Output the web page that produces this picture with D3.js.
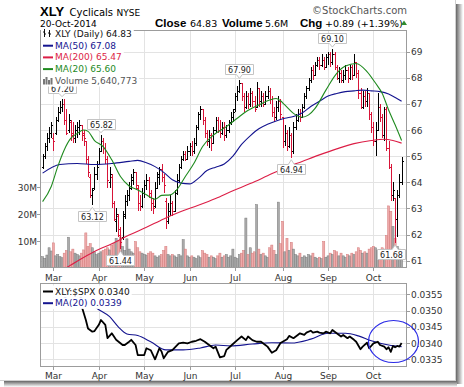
<!DOCTYPE html>
<html>
<head>
<meta charset="utf-8">
<script src="https://cdn.jsdelivr.net/npm/d3@7/dist/d3.min.js"></script>
<style>
  body { margin: 0; background: #fff; }
  svg { display: block; }
</style>
</head>
<body>
<div id="chart"></div>
<script>
// ---- data ----
const months = ['Mar', 'Apr', 'May', 'Jun', 'Jul', 'Aug', 'Sep', 'Oct'];
const monthStart = [5, 26, 47, 68, 89, 111, 132, 153]; // bar index of first trading day

// daily bars, 24-Feb-2014 .. 20-Oct-2014
const open = [64.6,65.0,65.4,65.7,65.9,65.7,65.9,66.4,66.7,66.9,67.0,66.4,66.0,66.3,65.9,65.7,66.0,66.1,66.2,65.9,
  65.6,64.9,64.2,63.5,63.8,64.3,64.7,65.2,65.6,65.3,64.9,64.0,64.2,63.2,62.5,62.7,62.2,61.9,62.8,63.3,
  63.5,63.8,64.1,64.4,63.8,63.2,63.1,63.6,63.9,64.1,63.6,63.2,63.1,63.8,64.2,64.5,64.2,63.3,62.5,62.9,
  63.2,62.9,63.6,64.1,64.6,64.9,65.1,64.9,65.2,65.4,65.2,65.5,66.1,66.6,66.8,66.4,65.9,65.6,65.8,65.5,
  66.0,66.4,66.0,65.9,66.1,65.8,66.0,66.3,66.5,66.8,67.3,67.5,67.8,67.3,66.9,67.3,67.0,67.4,67.1,66.9,
  67.6,67.1,67.3,67.0,67.3,67.5,67.2,66.7,66.5,66.9,67.1,66.5,65.6,65.9,65.4,65.8,65.2,66.1,66.4,66.6,
  66.5,66.9,67.3,67.6,67.9,68.3,68.1,68.5,68.7,68.5,68.7,68.4,68.8,68.9,68.6,68.9,68.4,68.0,68.2,67.9,
  68.1,68.3,68.0,68.4,68.1,68.6,68.2,67.4,66.9,67.3,67.1,67.4,66.6,66.1,65.6,66.0,66.9,66.5,65.8,66.8,
  65.3,64.6,63.5,63.4,62.6,63.5,64.0];
const high = [65.1,65.5,65.9,66.1,66.3,65.9,66.5,66.9,67.1,67.2,67.2,66.8,66.6,66.4,66.3,66.2,66.3,66.4,66.2,66.0,
  65.6,65.0,64.3,63.8,64.6,64.8,65.3,65.82,65.7,65.5,65.0,64.6,64.3,63.3,63.0,62.8,62.3,62.9,63.5,63.7,
  64.0,64.3,64.5,64.4,63.9,63.5,63.8,64.1,64.3,64.2,63.7,63.4,64.0,64.4,64.6,64.7,64.3,63.4,63.2,63.5,
  63.3,63.7,64.3,64.7,65.0,65.2,65.2,65.4,65.5,65.6,65.7,66.2,66.7,66.92,66.8,66.5,66.0,66.0,65.9,66.1,
  66.5,66.5,66.4,66.3,66.3,66.2,66.4,66.7,66.8,67.4,67.7,67.9,67.8,67.4,67.5,67.4,67.6,67.5,67.3,67.85,
  67.6,67.5,67.4,67.5,67.7,67.6,67.3,66.9,67.1,67.3,67.2,66.5,66.2,66.0,66.1,65.9,66.3,66.6,66.8,66.8,
  67.0,67.4,67.7,68.0,68.4,68.5,68.6,68.8,68.8,68.9,68.8,68.9,69.0,69.0,69.1,69.0,68.5,68.4,68.3,68.3,
  68.5,68.4,68.5,68.5,68.9,68.6,68.3,67.6,67.5,67.5,67.6,67.4,66.7,66.3,66.3,67.4,67.0,66.6,66.9,66.9,
  65.6,64.7,64.0,63.4,63.7,64.3,64.95];
const low = [64.5,64.9,65.2,65.5,65.7,65.2,65.8,66.3,66.6,66.7,66.2,65.8,65.9,65.6,65.5,65.5,65.7,65.8,65.6,65.4,
  64.7,64.2,63.4,63.12,63.7,64.1,64.7,65.2,65.1,64.7,63.8,63.8,63.0,62.5,62.1,61.9,61.44,61.8,62.6,63.1,
  63.3,63.7,63.9,63.7,62.9,62.9,63.0,63.4,63.7,63.4,62.9,62.8,63.0,63.8,63.9,64.0,63.6,62.2,62.4,62.7,
  62.7,62.9,63.5,64.0,64.5,64.8,64.8,64.9,65.0,65.0,65.1,65.4,66.0,66.4,66.2,65.7,65.4,65.3,65.2,65.5,
  65.9,65.9,65.7,65.8,65.6,65.7,65.9,66.2,66.3,66.7,67.1,67.4,67.1,66.7,66.8,66.8,66.9,66.9,66.7,66.9,
  66.9,66.9,66.9,67.0,67.2,67.0,66.5,66.3,66.4,66.7,66.4,65.3,65.4,65.2,65.3,64.94,65.1,66.0,66.3,66.3,
  66.5,66.8,67.2,67.5,67.8,67.9,68.1,68.4,68.3,68.4,68.3,68.4,68.5,68.4,68.5,68.3,67.9,67.8,67.8,67.8,
  67.9,67.8,67.9,67.9,68.1,68.0,67.2,66.8,66.8,66.9,66.9,66.4,65.9,65.4,65.0,66.0,66.3,65.7,65.6,65.2,
  64.5,63.3,63.3,61.68,61.9,63.4,63.9];
const close = [65.0,65.4,65.7,65.9,66.2,65.6,66.4,66.7,66.9,67.0,66.4,65.9,66.4,65.8,65.7,66.0,66.1,66.2,65.8,65.7,
  64.9,64.4,63.5,63.7,64.3,64.6,65.2,65.6,65.3,64.9,64.1,64.3,63.2,62.6,62.8,62.0,61.7,62.7,63.3,63.5,
  63.8,64.2,64.4,63.9,63.2,63.1,63.6,63.9,64.1,63.6,63.2,63.0,63.8,64.3,64.5,64.2,63.9,62.5,62.9,63.2,
  62.9,63.6,64.1,64.6,64.9,65.1,64.9,65.2,65.4,65.2,65.5,66.1,66.6,66.8,66.4,65.9,65.6,65.8,65.5,66.0,
  66.4,66.0,65.9,66.1,65.8,66.0,66.3,66.5,66.7,67.3,67.5,67.8,67.3,66.9,67.3,67.0,67.4,67.1,66.8,67.6,
  67.1,67.3,67.0,67.3,67.5,67.2,66.7,66.5,66.9,67.1,66.6,65.6,65.9,65.4,65.8,65.2,66.1,66.4,66.6,66.5,
  66.9,67.3,67.6,67.9,68.3,68.1,68.5,68.7,68.5,68.7,68.4,68.8,68.9,68.6,68.9,68.4,68.0,68.2,67.9,68.1,
  68.3,68.0,68.4,68.1,68.6,68.2,67.4,66.9,67.3,67.1,67.4,66.6,66.1,65.6,66.0,66.9,66.5,65.8,66.8,65.3,
  64.6,63.5,63.7,62.6,63.5,64.0,64.83];
// volume, millions
const volume = [4.2,3.6,4.8,7.5,6.3,9.3,4.5,5.0,4.2,3.8,5.5,6.5,11.4,6.0,7.0,5.5,5.0,4.5,5.5,6.7,
  13.0,8.0,9.0,7.5,6.0,5.0,5.5,6.0,6.5,7.0,7.5,6.7,8.5,9.0,11.0,10.0,11.5,8.0,6.5,10.8,
  7.0,6.0,5.5,9.8,7.5,6.0,5.5,5.0,4.8,5.5,6.0,5.5,4.5,4.0,4.5,5.0,6.5,8.0,5.0,4.5,
  5.0,4.5,4.0,5.0,4.5,10.5,7.0,4.5,4.0,4.5,4.0,3.5,4.5,3.8,6.4,5.5,5.0,4.0,4.5,4.0,
  3.5,4.5,5.5,4.0,4.5,5.0,4.0,4.5,7.0,4.0,3.5,5.0,5.5,6.5,18.5,5.0,7.5,5.5,6.0,23.5,
  7.0,5.0,5.5,4.5,4.0,7.5,8.5,6.5,5.0,24.4,9.0,17.3,6.0,11.0,6.5,9.5,7.0,5.0,4.5,5.5,
  4.0,4.5,4.0,5.0,4.5,5.5,4.0,3.5,4.0,3.5,9.8,4.0,4.5,5.5,5.0,6.5,6.0,4.5,5.5,4.5,
  4.0,5.0,4.5,5.5,5.0,6.0,7.5,6.5,5.5,6.0,5.5,7.0,7.5,8.0,7.5,6.5,6.0,7.5,7.0,12.0,
  23.0,21.0,15.4,11.0,8.0,7.0,5.64];

// moving averages as [bar index, value]
const ma20 = [[0,63.26],[4,63.84],[7,64.6],[10,65.24],[13,65.68],[16,65.87],[19,66.0],[21,65.95],[24,65.6],[28,65.37],
  [32,64.86],[36,64.22],[40,63.86],[44,63.71],[48,63.52],[52,63.35],[55,63.5],[59,63.52],[62,63.71],[66,64.22],
  [70,64.73],[74,65.37],[79,65.81],[85,66.13],[90,66.45],[94,66.7],[100,66.96],[105,67.15],[108,67.21],[110,67.12],
  [112,66.96],[116,66.64],[120,66.49],[123,66.58],[126,66.83],[131,67.53],[136,68.17],[140,68.45],[145,68.55],
  [150,68.24],[154,67.79],[157,67.41],[160,66.77],[163,66.2],[166,65.6]];
const ma50 = [[0,64.35],[8,64.68],[16,64.72],[24,64.68],[32,64.72],[40,64.8],[44,64.84],[48,64.75],[52,64.6],[56,64.38],
  [60,64.1],[64,63.97],[68,63.94],[72,64.15],[76,64.45],[80,64.58],[84,64.7],[88,65.0],[92,65.45],[96,65.78],
  [100,66.05],[104,66.22],[108,66.35],[112,66.45],[116,66.52],[120,66.65],[124,66.9],[128,67.1],[132,67.3],
  [136,67.4],[140,67.47],[144,67.5],[148,67.53],[152,67.5],[156,67.47],[160,67.38],[164,67.2],[166,67.1]];
const ma200 = [[10,60.68],[16,60.98],[24,61.35],[32,61.65],[40,61.98],[48,62.28],[56,62.6],[64,62.88],[72,63.12],
  [80,63.38],[88,63.68],[96,63.95],[104,64.25],[112,64.55],[120,64.8],[128,65.05],[136,65.28],[144,65.48],
  [152,65.6],[158,65.65],[162,65.6],[166,65.5]];

// XLY:$SPX ratio and its MA(20)
const ratio = [[18,0.03515],[20,0.03471],[21,0.03445],[23,0.03435],[24,0.03437],[26,0.03456],[27,0.03471],[29,0.03456],
  [30,0.03415],[32,0.0343],[34,0.0341],[37,0.03394],[38,0.03394],[40,0.03404],[41,0.0341],[43,0.03394],[44,0.03363],
  [47,0.03363],[48,0.03384],[50,0.03378],[52,0.0335],[54,0.03384],[55,0.03374],[56,0.03353],[58,0.03373],[60,0.03378],
  [63,0.03399],[65,0.03401],[67,0.03399],[69,0.03404],[71,0.03407],[73,0.03412],[75,0.03404],[77,0.03394],[79,0.03384],
  [80,0.03389],[82,0.03356],[84,0.0336],[85,0.03379],[87,0.03391],[90,0.03409],[92,0.0342],[94,0.03409],[95,0.0342],
  [97,0.03409],[99,0.03404],[101,0.03404],[103,0.03394],[104,0.03389],[106,0.0337],[108,0.03378],[110,0.034],
  [111,0.03404],[113,0.03412],[114,0.03422],[116,0.03415],[118,0.03425],[119,0.0343],[121,0.03425],[122,0.03432],
  [124,0.03438],[125,0.03432],[127,0.03435],[128,0.03432],[130,0.0343],[131,0.03435],[133,0.0343],[134,0.0344],
  [136,0.0343],[138,0.0342],[139,0.03425],[141,0.03415],[142,0.0342],[144,0.0341],[145,0.03404],[147,0.03381],
  [148,0.03389],[150,0.03401],[151,0.03384],[153,0.03399],[155,0.03404],[156,0.03394],[158,0.03389],[159,0.03381],
  [160,0.03387],[161,0.03373],[162,0.03391],[163,0.03387],[164,0.03391],[165,0.03389],[166,0.0340]];
const ratioMa = [[0,0.0351],[3,0.03512],[8,0.0353],[14,0.0355],[20,0.0353],[24,0.03512],[25,0.03507],[31,0.03481],
  [35,0.0345],[39,0.03428],[44,0.03423],[50,0.03404],[57,0.03379],[65,0.03379],[73,0.03385],[80,0.03394],
  [87,0.03391],[97,0.03397],[106,0.03401],[115,0.034],[124,0.03412],[132,0.0343],[140,0.0343],[146,0.03422],
  [152,0.03407],[160,0.03394],[166,0.03389]];

// labelled highs / lows
const callIdx = [9, 27, 23, 36, 91, 115, 134, 163];
const callVal = [67.20, 65.82, 63.12, 61.44, 67.90, 64.94, 69.10, 61.68];
const callHigh = [true, true, false, false, true, false, true, false];

const priceTicks = [61, 62, 63, 64, 65, 66, 67, 68, 69];
const volTicks = [10, 20, 30];
const ratioTicks = [0.0335, 0.0340, 0.0345, 0.0350, 0.0355];

// ---- layout ----
const W = 464, H = 387;
const L = 40, R = 407, T = 30, B = 268, lT = 283, lB = 367;
const C = { up: '#000', down: '#d81438', ma20: '#1e8a1e', ma50: '#14148f', ma200: '#dc1e46',
  grid: '#e3e3e3', frame: '#9c9c9c', axis: '#333' };
const FONT = 'DejaVu Sans';

const svg = d3.select('#chart').append('svg').attr('width', W).attr('height', H)
  .attr('font-family', FONT);

// drop shadow on right and bottom
const defs = svg.append('defs');
const gR = defs.append('linearGradient').attr('id', 'shR').attr('x1', 0).attr('x2', 1).attr('y1', 0).attr('y2', 0);
gR.append('stop').attr('offset', '0%').attr('stop-color', '#666');
gR.append('stop').attr('offset', '100%').attr('stop-color', '#fff');
const gB = defs.append('linearGradient').attr('id', 'shB').attr('x1', 0).attr('x2', 0).attr('y1', 0).attr('y2', 1);
gB.append('stop').attr('offset', '0%').attr('stop-color', '#666');
gB.append('stop').attr('offset', '100%').attr('stop-color', '#fff');
svg.append('rect').attr('x', 456).attr('y', 4).attr('width', 7).attr('height', 380).attr('fill', 'url(#shR)');
svg.append('rect').attr('x', 4).attr('y', 381).attr('width', 453).attr('height', 6).attr('fill', 'url(#shB)');
svg.append('rect').attr('x', 0).attr('y', 0).attr('width', 456).attr('height', 381).attr('fill', '#fff');
svg.append('line').attr('x1', 455.5).attr('x2', 455.5).attr('y1', 0).attr('y2', 381).attr('stroke', '#d0d0d0');
svg.append('line').attr('x1', 0).attr('x2', 456).attr('y1', 380.5).attr('y2', 380.5).attr('stroke', '#d0d0d0');

defs.append('clipPath').attr('id', 'clipMain').append('rect').attr('x', L).attr('y', T).attr('width', R - L).attr('height', B - T);
defs.append('clipPath').attr('id', 'clipLow').append('rect').attr('x', L).attr('y', lT).attr('width', R - L).attr('height', lB - lT);

const x = d3.scaleLinear().domain([-1.2, 168.5]).range([L, R]);
const y = d3.scaleLinear().domain([60.72, 69.83]).range([B, T]);
const yVol = d3.scaleLinear().domain([0, 10]).range([B, 241]);
const yR = d3.scaleLinear().domain([0.0335, 0.0355]).range([359.3, 294.3]);
const px = v => Math.round(v) + 0.5;

// ---- header ----
const head = svg.append('g');
head.append('text').attr('x', 40).attr('y', 15.5).attr('font-family', 'Liberation Sans').attr('font-weight', 700)
  .attr('font-size', 13).text('XLY');
head.append('text').attr('x', 69.5).attr('y', 15.5).attr('font-size', 10).text('Cyclicals');
head.append('text').attr('x', 116.5).attr('y', 15.5).attr('font-size', 9).text('NYSE');
head.append('text').attr('x', 40).attr('y', 27).attr('font-size', 9).text('20-Oct-2014');
[['Close', 155, true], ['64.83', 190, false], ['Volume', 222, true], ['5.6M', 265, false],
 ['Chg', 300, true], ['+0.89 (+1.39%)', 325, false]].forEach(([t, tx, b]) => {
  head.append('text').attr('x', tx).attr('y', 26.5)
    .attr('font-family', b ? 'Liberation Sans' : FONT).attr('font-weight', b ? 700 : 400)
    .attr('font-size', b ? 11.5 : 9.5).text(t);
});
head.append('path').attr('d', 'M401,25 L404,20.5 L407,25 Z').attr('fill', '#2e8b2e');
head.append('text').attr('x', 407).attr('y', 13.5).attr('text-anchor', 'end').attr('font-size', 10)
  .attr('fill', '#555').text('\u00a9StockCharts.com');

// ---- main panel ----
const main = svg.append('g');
priceTicks.forEach(p => {
  main.append('line').attr('x1', L).attr('x2', R).attr('y1', px(y(p))).attr('y2', px(y(p))).attr('stroke', C.grid);
  main.append('line').attr('x1', R).attr('x2', R + 3).attr('y1', px(y(p))).attr('y2', px(y(p))).attr('stroke', C.frame);
  main.append('text').attr('x', R + 4).attr('y', y(p) + 3.5).attr('font-size', 9).attr('fill', C.axis).text(p);
});
monthStart.forEach((m, k) => {
  const mx = px(x(m));
  [[T, B], [lT, lB]].forEach(([a, b]) => {
    main.append('line').attr('x1', mx).attr('x2', mx).attr('y1', a).attr('y2', b).attr('stroke', C.grid);
    main.append('line').attr('x1', mx).attr('x2', mx).attr('y1', b).attr('y2', b + 3).attr('stroke', C.frame);
  });
  main.append('text').attr('x', mx).attr('y', 280.5).attr('text-anchor', 'middle').attr('font-size', 9)
    .attr('fill', C.axis).text(months[k]);
  main.append('text').attr('x', mx).attr('y', 378.5).attr('text-anchor', 'middle').attr('font-size', 9)
    .attr('fill', C.axis).text(months[k]);
});
volTicks.forEach(v => {
  main.append('line').attr('x1', L - 3).attr('x2', L).attr('y1', px(yVol(v))).attr('y2', px(yVol(v))).attr('stroke', C.frame);
  main.append('text').attr('x', L - 3).attr('y', yVol(v) + 3.5).attr('text-anchor', 'end').attr('font-size', 9)
    .attr('fill', C.axis).text(v + 'M');
});

const bars = close.map((c, i) => ({ i, o: open[i], h: high[i], l: low[i], c, v: volume[i],
  up: i === 0 || c >= close[i - 1] }));

const plot = main.append('g').attr('clip-path', 'url(#clipMain)');
plot.selectAll('rect.vol').data(bars).join('rect').attr('class', 'vol')
  .attr('x', d => x(d.i) - 1.05).attr('width', 2.1)
  .attr('y', d => yVol(d.v)).attr('height', d => B - yVol(d.v))
  .attr('fill', d => d.up ? '#ababab' : '#eeaaaa')
  .attr('stroke', d => d.up ? '#7c7c7c' : '#d47a7a').attr('stroke-width', 0.5);

const barG = plot.append('g').attr('shape-rendering', 'crispEdges');
bars.forEach(d => {
  const bx = px(x(d.i)), col = d.up ? C.up : C.down;
  barG.append('line').attr('x1', bx).attr('x2', bx).attr('y1', y(d.h)).attr('y2', y(d.l)).attr('stroke', col);
  barG.append('line').attr('x1', bx - 1.5).attr('x2', bx).attr('y1', px(y(d.o))).attr('y2', px(y(d.o))).attr('stroke', col);
  barG.append('line').attr('x1', bx).attr('x2', bx + 1.5).attr('y1', px(y(d.c))).attr('y2', px(y(d.c))).attr('stroke', col);
});

const maLine = d3.line().x(d => x(d[0])).y(d => y(d[1])).curve(d3.curveMonotoneX);
[[ma200, C.ma200], [ma50, C.ma50], [ma20, C.ma20]].forEach(([s, col]) => {
  plot.append('path').datum(s).attr('d', maLine).attr('fill', 'none').attr('stroke', col).attr('stroke-width', 1.1);
});

// high / low callouts
callIdx.forEach((ci, k) => {
  const v = callVal[k], isHigh = callHigh[k];
  const t = main.append('text').attr('font-size', 8).attr('fill', '#222').attr('text-anchor', 'middle').text(v.toFixed(2));
  const tw = t.node().getComputedTextLength();
  const bw = Math.round(tw + 5), bh = 10;
  const tipX = x(ci), tipY = isHigh ? y(v) - 2 : y(v) + 2;
  let bx = Math.round(tipX - bw / 2);
  bx = Math.max(L + 1, Math.min(R - 2 - bw, bx)) + 0.5;
  const by = isHigh ? Math.round(tipY - 4 - bh) + 0.5 : Math.round(tipY + 4) + 0.5;
  const ax = Math.max(bx + 4, Math.min(bx + bw - 4, tipX));
  const path = isHigh
    ? `M${bx},${by}H${bx + bw}V${by + bh}H${ax + 3}L${tipX},${tipY}L${ax - 3},${by + bh}H${bx}Z`
    : `M${bx},${by}H${ax - 3}L${tipX},${tipY}L${ax + 3},${by}H${bx + bw}V${by + bh}H${bx}Z`;
  main.insert('path', () => t.node()).attr('d', path).attr('fill', '#fff').attr('stroke', '#c4c4c4');
  t.attr('x', bx + bw / 2).attr('y', by + 8);
});

main.append('rect').attr('x', L + 0.5).attr('y', T + 0.5).attr('width', R - L - 1).attr('height', B - T - 1)
  .attr('fill', 'none').attr('stroke', C.frame);

// main legend
function legend(g, rows) {
  rows.forEach(r => {
    const t = g.append('text').attr('x', 55).attr('y', r.y).attr('font-size', 9).attr('fill', r.col).text(r.text);
    const tw = t.node().getComputedTextLength();
    g.insert('rect', () => t.node()).attr('x', L + 1).attr('y', r.y - 9).attr('width', 55 + tw + 2 - L - 1)
      .attr('height', 11.7).attr('fill', '#fff');
    if (r.dash) g.append('line').attr('x1', 43).attr('x2', 53).attr('y1', r.y - 3).attr('y2', r.y - 3)
      .attr('stroke', r.dash).attr('stroke-width', 2);
  });
}
const legG = svg.append('g');
legend(legG, [
  { y: 37, text: 'XLY (Daily) 64.83', col: '#111' },
  { y: 48.7, text: 'MA(50) 67.08', col: C.ma50, dash: C.ma50 },
  { y: 60.4, text: 'MA(200) 65.47', col: C.ma200, dash: C.ma200 },
  { y: 72.1, text: 'MA(20) 65.60', col: C.ma20, dash: C.ma20 },
  { y: 83.8, text: 'Volume 5,640,773', col: '#555' }
]);
// OHLC glyph and volume glyph
[44.5, 49.5].forEach((gx, k) => {
  legG.append('path').attr('d', `M${gx},${29 + k}V37M${gx - 1.5},${32 + k}H${gx}M${gx},${34}H${gx + 1.5}`)
    .attr('stroke', '#111').attr('fill', 'none');
});
[[43, 79], [45.5, 77], [48, 80], [50.5, 78]].forEach(([gx, gy]) => {
  legG.append('rect').attr('x', gx).attr('y', gy).attr('width', 2).attr('height', 84.5 - gy).attr('fill', '#777');
});

// ---- lower panel ----
const low2 = svg.append('g');
ratioTicks.forEach(v => {
  low2.append('line').attr('x1', L).attr('x2', R).attr('y1', px(yR(v))).attr('y2', px(yR(v))).attr('stroke', C.grid);
  low2.append('line').attr('x1', R).attr('x2', R + 3).attr('y1', px(yR(v))).attr('y2', px(yR(v))).attr('stroke', C.frame);
  low2.append('text').attr('x', R + 4).attr('y', yR(v) + 3.5).attr('font-size', 9).attr('fill', C.axis)
    .text(d3.format('.4f')(v));
});
const lp = low2.append('g').attr('clip-path', 'url(#clipLow)');
const rLine = d3.line().x(d => x(d[0])).y(d => yR(d[1]));
lp.append('path').datum(ratioMa).attr('d', rLine.curve(d3.curveMonotoneX)).attr('fill', 'none')
  .attr('stroke', C.ma50).attr('stroke-width', 1.1);
lp.append('path').datum(ratio).attr('d', rLine.curve(d3.curveLinear)).attr('fill', 'none')
  .attr('stroke', '#000').attr('stroke-width', 1.8).attr('stroke-linejoin', 'round');
low2.append('rect').attr('x', L + 0.5).attr('y', lT + 0.5).attr('width', R - L - 1).attr('height', lB - lT - 1)
  .attr('fill', 'none').attr('stroke', C.frame);
legend(svg.append('g'), [
  { y: 294.5, text: 'XLY:$SPX 0.0340', col: '#111', dash: '#000' },
  { y: 306.2, text: 'MA(20) 0.0339', col: C.ma50, dash: C.ma50 }
]);

// hand-drawn highlight circle
svg.append('ellipse').attr('cx', 393.5).attr('cy', 341.5).attr('rx', 25).attr('ry', 21)
  .attr('fill', 'none').attr('stroke', '#2a2ae6').attr('stroke-width', 1.2);
</script>
</body>
</html>
